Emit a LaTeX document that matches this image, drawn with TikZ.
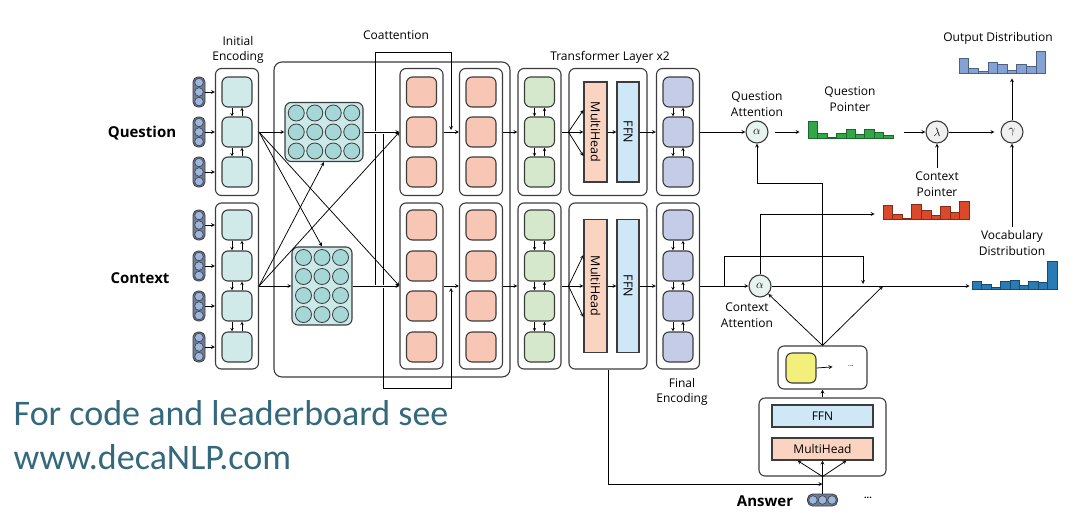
\documentclass[tikz,border=0pt]{standalone}
\usepackage{fontspec}
\setmainfont{Open Sans}
\newfontfamily\notefont{Carlito}

\definecolor{edge}{RGB}{60,60,60}
\definecolor{enccol}{RGB}{208,234,234}
\definecolor{matbg}{RGB}{205,232,232}
\definecolor{matdot}{RGB}{165,215,215}
\definecolor{pinkcol}{RGB}{248,198,180}
\definecolor{greencol}{RGB}{214,232,204}
\definecolor{bluecol}{RGB}{196,204,232}
\definecolor{mhcol}{RGB}{250,212,192}
\definecolor{ffncol}{RGB}{206,232,248}
\definecolor{tokfill}{RGB}{156,182,224}
\definecolor{tokbg}{RGB}{110,125,150}
\definecolor{qptrcol}{RGB}{48,168,72}
\definecolor{cptrcol}{RGB}{218,74,42}
\definecolor{outcol}{RGB}{132,162,212}
\definecolor{vocabcol}{RGB}{42,122,180}
\definecolor{yellowcol}{RGB}{242,240,122}
\definecolor{attfill}{RGB}{230,243,238}
\definecolor{opfill}{RGB}{240,240,240}
\definecolor{notecol}{RGB}{52,104,124}

\begin{document}
\begin{tikzpicture}[x=1pt,y=-1pt,>=stealth,line width=0.75pt,
	colbox/.style={draw=edge,line width=1.1pt,rounded corners=6pt,fill=white,minimum width=43pt,inner sep=0pt},
	cell/.style={draw=edge,line width=1.1pt,rounded corners=6pt,minimum size=30pt,inner sep=0pt},
	tokens/.style={draw=edge,fill=tokbg,line width=0.8pt,rounded corners=5pt,inner sep=0pt},
	matbox/.style={draw=edge,line width=1.1pt,rounded corners=6pt,fill=matbg,inner sep=0pt},
	layer/.style={draw=edge,line width=1.1pt,inner sep=0pt,font=\fontsize{12}{14}\selectfont},
	op/.style={circle,draw=edge,line width=1.1pt,minimum size=22pt,inner sep=0pt,font=\fontsize{12}{14}\selectfont},
	lbl/.style={font=\fontsize{12}{15.5}\selectfont,align=center},
	side/.style={font=\bfseries\fontsize{15}{18}\selectfont},
	bar/.style={line width=0.5pt}]
	\useasboundingbox (0,0) rectangle (1078,512);
	
	%coattention frame
	\draw[draw=edge,line width=1.1pt,rounded corners=8pt] (274,62) rectangle (510,377);
	
	%columns
	\foreach \n/\x in {enc/237,pka/421.5,pkb/481,grn/539.5,blu/678} {
		\node[colbox,minimum height=127pt] (q\n) at (\x,132) {};
		\node[colbox,minimum height=166pt] (c\n) at (\x,286) {};
	}
	\node[colbox,minimum width=78pt,minimum height=127pt] (qtrf) at (608,132) {};
	\node[colbox,minimum width=78pt,minimum height=166pt] (ctrf) at (608,286) {};
	
	%cells
	\foreach \n/\x/\clr in {enc/237/enccol,pka/421.5/pinkcol,pkb/481/pinkcol,grn/539.5/greencol,blu/678/bluecol} {
		\foreach \i/\y in {1/92,2/132,3/172} \node[cell,fill=\clr] (q\n\i) at (\x,\y) {};
		\foreach \i/\y in {1/225,2/266,3/306,4/347} \node[cell,fill=\clr] (c\n\i) at (\x,\y) {};
	}
	\foreach \n in {enc,grn,blu} {
		\foreach \i/\j in {1/2,2/3} {
			\draw[->,line width=0.6pt] ([xshift=-5pt]q\n\i.south) -- ([xshift=-5pt]q\n\j.north);
			\draw[->,line width=0.6pt] ([xshift=5pt]q\n\j.north) -- ([xshift=5pt]q\n\i.south);
		}
		\foreach \i/\j in {1/2,2/3,3/4} {
			\draw[->,line width=0.6pt] ([xshift=-5pt]c\n\i.south) -- ([xshift=-5pt]c\n\j.north);
			\draw[->,line width=0.6pt] ([xshift=5pt]c\n\j.north) -- ([xshift=5pt]c\n\i.south);
		}
	}
	
	%input tokens
	\foreach \row/\i/\y in {q/1/92,q/2/132,q/3/172,c/1/225,c/2/266,c/3/306,c/4/347} {
		\node[tokens,minimum width=12pt,minimum height=30pt] (\row tok\i) at (199,\y) {};
		\foreach \dy in {-9.5,0,9.5} \filldraw[draw=edge,fill=tokfill,line width=0.6pt] (199,\y+\dy) circle (4.3pt);
		\draw[->] (\row tok\i.east) -- (\row tok\i.east -| \row enc.west);
	}
	
	%affinity matrices
	\node[matbox,minimum width=78pt,minimum height=59pt] (qmat) at (324,132) {};
	\foreach \x in {296.25,314.75,333.25,351.75} \foreach \y in {113,132,151}
		\filldraw[draw=edge,fill=matdot,line width=0.8pt] (\x,\y) circle (8pt);
	\node[matbox,minimum width=60pt,minimum height=78pt] (cmat) at (322,286) {};
	\foreach \x in {303.5,322,340.5} \foreach \y in {257.5,276.5,295.5,314.5}
		\filldraw[draw=edge,fill=matdot,line width=0.8pt] (\x,\y) circle (8pt);
	
	%coattention lines
	\coordinate (qfb) at (383,132);
	\coordinate (cfb) at (375,286);
	\coordinate (qin) at (451,132);
	\coordinate (cin) at (451,286);
	\draw[->] (cfb) |- ([yshift=80pt]qin) -- ([yshift=2pt]qin);
	\draw[->] (qfb) |- ([yshift=-102pt]cin) -- ([yshift=-2pt]cin);
	\draw[->,preaction={draw=white,line width=3pt}] (qmat.east) -- (qpka.west);
	\draw[->,preaction={draw=white,line width=3pt}] (cmat.east) -- (cpka.west);
	\draw[->] (qenc.east) -- (qmat.west);
	\draw[->] (qenc.east) -- (cmat.north);
	\draw[->] (qenc.east) -- (cpka.west);
	\draw[->] (cenc.east) -- (cmat.west);
	\draw[->] (cenc.east) -- (qmat.south);
	\draw[->] (cenc.east) -- (qpka.west);
	
	%transformer layers
	\foreach \row/\y/\h in {q/132/100,c/286/133} {
		\node[layer,fill=mhcol,minimum width=23pt,minimum height=\h pt] (\row mh) at (595.5,\y) {};
		\node[rotate=-90,font=\fontsize{12.5}{14}\selectfont] (\row mhtxt) at (\row mh) {MultiHead};
		\node[layer,fill=ffncol,minimum width=22pt,minimum height=\h pt] (\row ffn) at (628,\y) {};
		\node[rotate=-90,font=\fontsize{12.5}{14}\selectfont] (\row ffntxt) at (\row ffn) {FFN};
	}
	\foreach \row/\up/\dn in {q/22/-24,c/31/-31} {
		\draw[->] (\row pka.east) -- (\row pkb.west);
		\draw[->] (\row pkb.east) -- (\row grn.west);
		\draw (\row grn.east) -- (\row trf.west);
		\draw[->] (\row trf.west) -- ([yshift=\up pt]\row mh.west);
		\draw[->] (\row trf.west) -- (\row mh.west);
		\draw[->] (\row trf.west) -- ([yshift=\dn pt]\row mh.west);
		\draw[->] (\row mh.east) -- (\row ffn.west);
		\draw[->] (\row ffn.east) -- (\row blu.west);
	}
	
	%attention and pointers
	\node[op,fill=attfill] (qalpha) at (757,132) {$\alpha$};
	\node[op,fill=opfill] (lambda) at (937,132) {$\lambda$};
	\node[op,fill=opfill] (gamma) at (1012,132) {$\gamma$};
	\node[op,fill=attfill] (calpha) at (760,286) {$\alpha$};
	
	%histograms
	\foreach \h [count=\i from 0] in {16.7,5,1,5,8.3,3.3,9,5.7,2.3}
		\filldraw[bar,fill=qptrcol,draw=qptrcol!60!black] (808+\i*9.45,138) rectangle ++(9.45,-\h);
	\node[inner sep=0pt,minimum width=85pt,minimum height=17pt] (qptr) at (850.5,129.5) {};
	\foreach \h [count=\i from 0] in {15,5,1.7,11,9,2.7,9,6.7,21.7}
		\filldraw[bar,fill=outcol,draw=outcol!60!black] (959+\i*9.6,73) rectangle ++(9.6,-\h);
	\node[inner sep=0pt,minimum width=87pt,minimum height=22pt] (outdist) at (1002,62) {};
	\foreach \h [count=\i from 0] in {13.3,5,1,15,8.3,3.3,12.7,7,17.7}
		\filldraw[bar,fill=cptrcol,draw=cptrcol!60!black] (883+\i*9.55,219) rectangle ++(9.55,-\h);
	\node[inner sep=0pt,minimum width=86pt,minimum height=18pt] (cptr) at (926,210) {};
	\foreach \h [count=\i from 0] in {7.3,4.7,1.7,8,9,3.3,8,6.3,28}
		\filldraw[bar,fill=vocabcol,draw=vocabcol!60!black] (972+\i*9.45,289) rectangle ++(9.45,-\h);
	\node[inner sep=0pt,minimum width=85pt,minimum height=28pt] (vocab) at (1014.5,275) {};
	
	%decoder
	\node[colbox,minimum width=89pt,minimum height=43pt] (dtop) at (822.5,367.5) {};
	\node[cell,fill=yellowcol] (ycell) at (801,368) {};
	\node[font=\scriptsize] (ydots) at (851,366) {...};
	\node[colbox,minimum width=127pt,minimum height=78pt] (dbot) at (822.5,437) {};
	\node[layer,fill=ffncol,minimum width=101pt,minimum height=22pt] (dffn) at (822.5,416) {FFN};
	\node[layer,fill=mhcol,minimum width=101pt,minimum height=22pt] (dmh) at (822.5,449) {MultiHead};
	\node[tokens,minimum width=30pt,minimum height=12pt] (ans) at (822.5,500) {};
	\foreach \dx in {-9.5,0,9.5} \filldraw[draw=edge,fill=tokfill,line width=0.6pt] (822.5+\dx,500) circle (4.3pt);
	\node[font=\bfseries\small] (adots) at (868,498) {...};
	
	%right side lines
	\draw[->] (qblu.east) -- (qalpha.west);
	\draw[->,shorten <=6pt,shorten >=8pt] (qalpha.east) -- (qalpha.east -| qptr.west);
	\draw[->,shorten <=11pt] (qptr.east |- lambda) -- (lambda.west);
	\draw[->,shorten >=6pt] (lambda.east) -- (gamma.west);
	\draw[->,shorten >=5pt] (gamma.north) -- (gamma.north |- outdist.south);
	\draw[->] (cblu.east) -- (calpha.west);
	\coordinate (cbr) at (724,286);
	\coordinate (cjoin) at (863,286);
	\coordinate (cjoin2) at (883,286);
	\draw[->] (cbr) |- ([yshift=30pt]cjoin) -- ([yshift=2pt]cjoin);
	\draw[->,shorten >=2pt] (calpha.east) -- (calpha.east -| vocab.west);
	\draw[->,shorten >=8pt] (calpha.north) |- ([yshift=-4pt]cptr.west);
	\draw[->] (dtop.north) -- (calpha);
	\draw[->] (dtop.north) -- (cjoin2);
	\draw[->] (dtop.north) -- ([yshift=162pt]dtop.north) -| (qalpha.south);
	\draw[->,shorten >=12pt] (ycell.east) -- (ydots.west);
	\draw[->] (dbot.north) -- (dtop.south);
	\draw (ans.north) -- (dbot.south);
	\foreach \dx in {-25,0,24} \draw[->] (dbot.south) -- ([xshift=\dx pt]dmh.south);
	\coordinate (ajoin) at (822.5,484);
	\draw[->] (ctrf.south) |- (ajoin);
	
	%labels
	\node[lbl] (ienclbl) at (238,50) {Initial\\Encoding};
	\node[lbl] (coattlbl) at (396,35) {Coattention};
	\node[lbl] (trflbl) at (610,57) {Transformer Layer x2};
	\node[lbl] (fenclbl) at (682,392) {Final\\Encoding};
	\node[lbl] (qattlbl) at (757,104) {Question\\Attention};
	\node[lbl] (qptrlbl) at (850,99) {Question\\Pointer};
	\node[lbl] (outlbl) at (998,38) {Output Distribution};
	\node[lbl] (cplbl) at (937,184) {Context\\Pointer};
	\node[lbl] (vlbl) at (1012,243) {Vocabulary\\Distribution};
	\node[lbl] (cattlbl) at (747,315) {Context\\Attention};
	\draw[->] (cplbl.north) -- (lambda.south);
	\draw[->] (vlbl.north -| gamma) -- (gamma.south);
	\node[side] (qlbl) at (142,133) {Question};
	\node[side] (clbl) at (140,278) {Context};
	\node[side] (anslbl) at (765,501) {Answer};
	\node[anchor=west,align=left,text=notecol,font=\notefont\fontsize{36}{44}\selectfont] (note) at (10,435) {For code and leaderboard see\\www.decaNLP.com};
\end{tikzpicture}
\end{document}
